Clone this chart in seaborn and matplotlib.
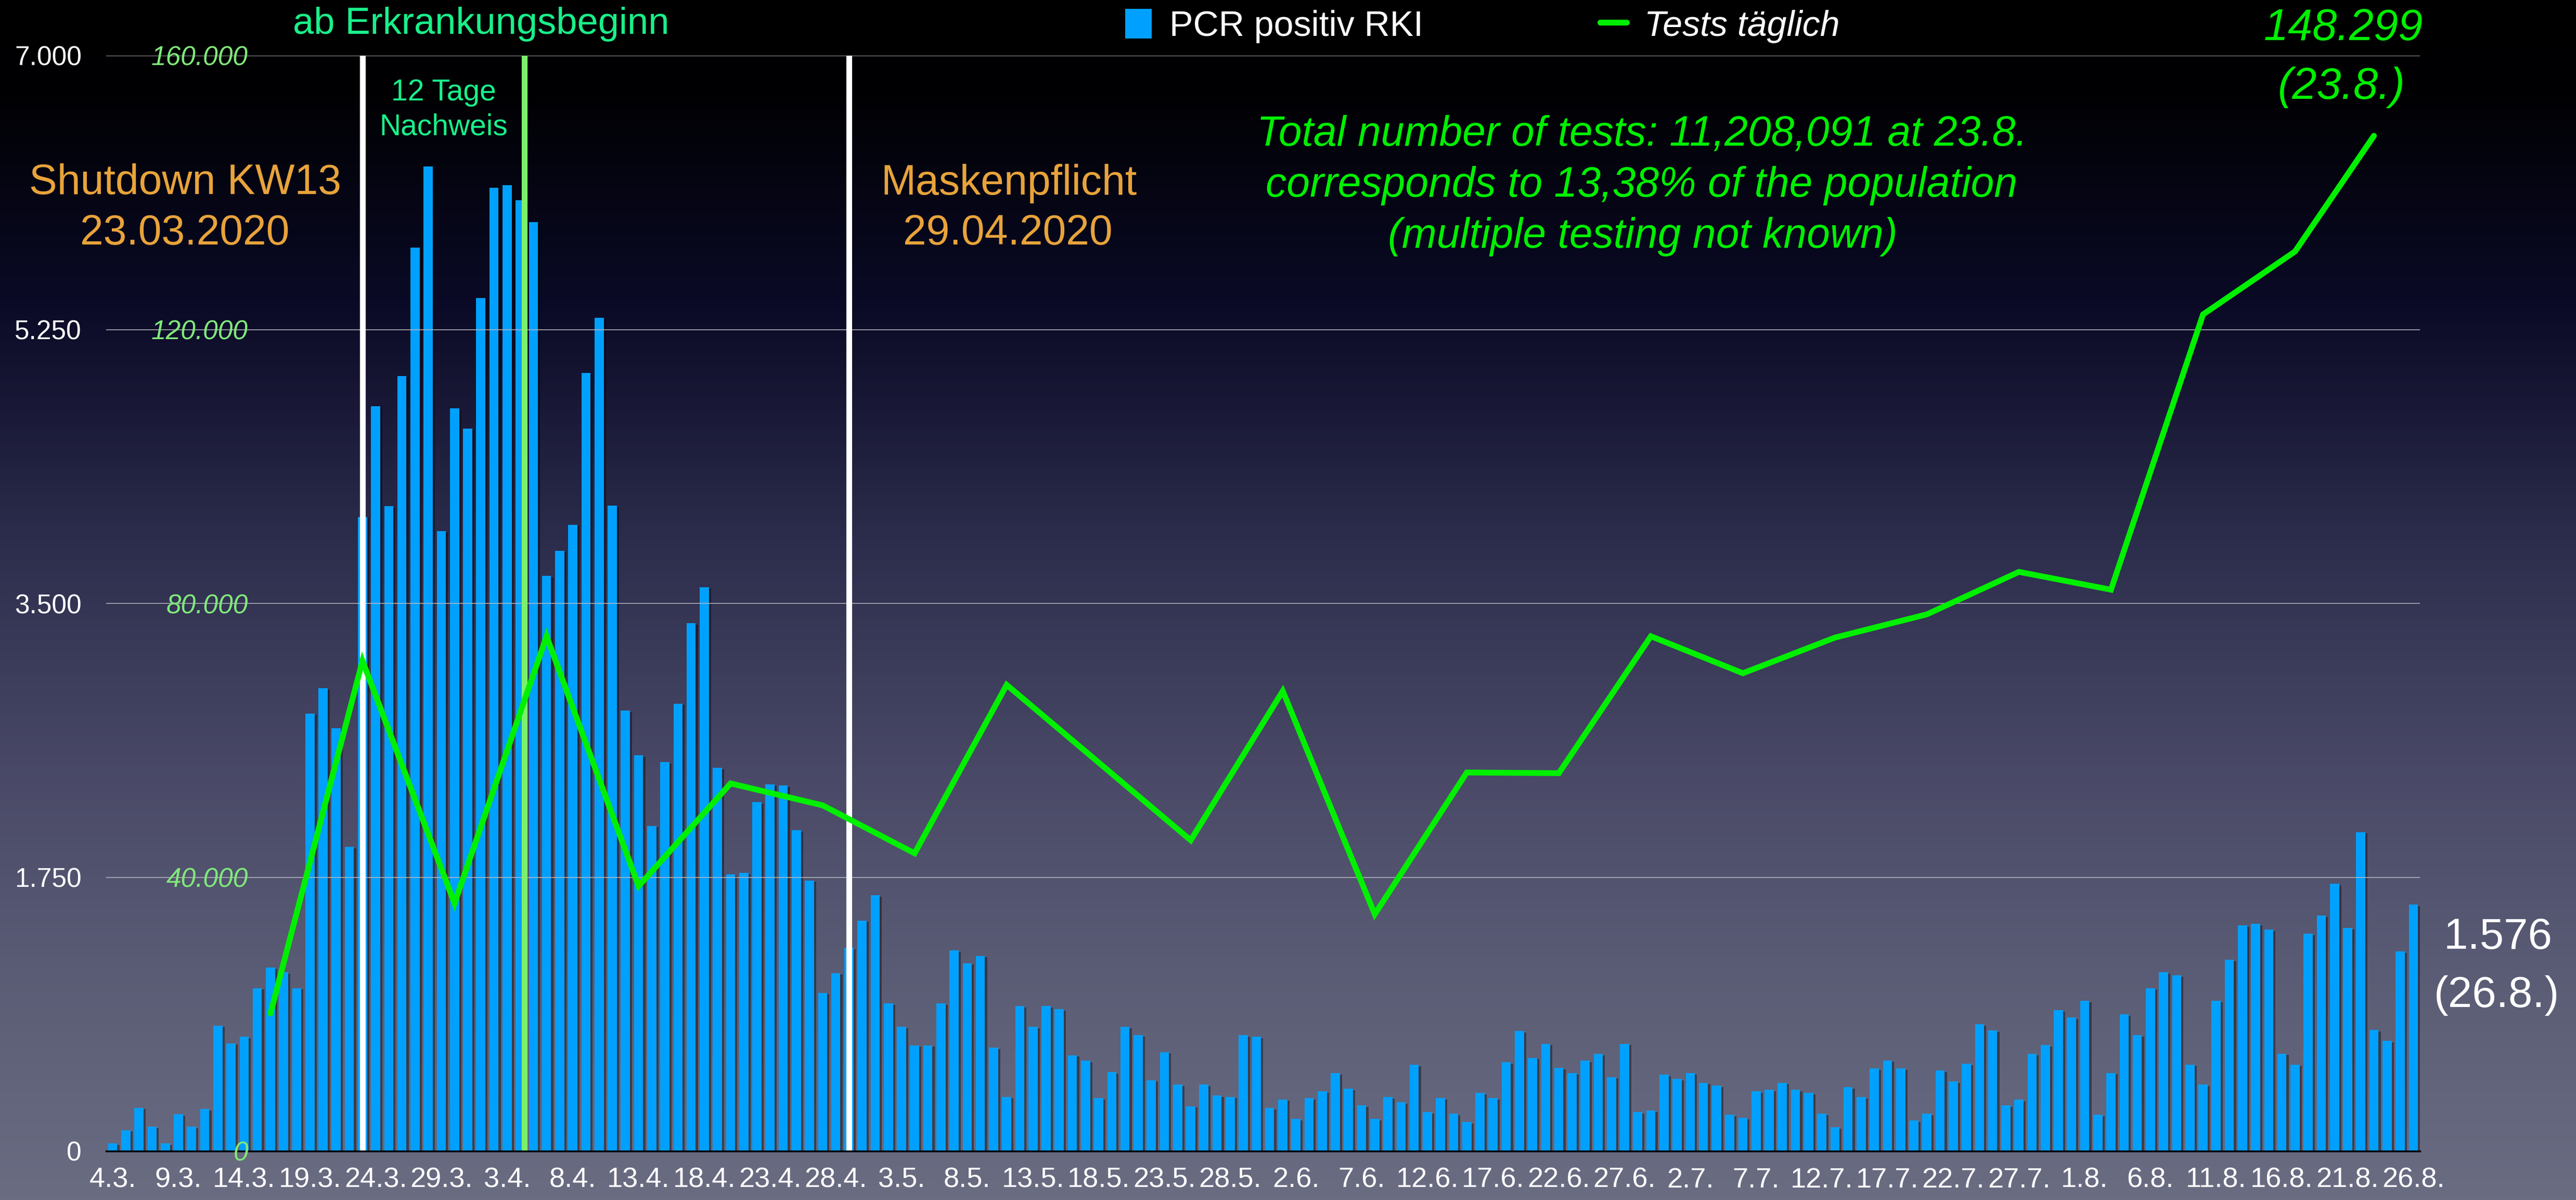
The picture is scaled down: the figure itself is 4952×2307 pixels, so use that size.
import numpy as np
import pandas as pd
import matplotlib
matplotlib.use('Agg')
import matplotlib.pyplot as plt
import matplotlib.patheffects as pe
from matplotlib.colors import LinearSegmentedColormap
from matplotlib.patches import Patch
from matplotlib.lines import Line2D
import seaborn as sns

# PCR positive per day (RKI), 4.3. - 26.8.2020
pcr_positive = [
    50, 134, 277, 155, 50, 235, 155, 269, 802, 689,
    731, 1042, 1172, 1142, 1042, 2797, 2957, 2701, 1945, 4053,
    4759, 4120, 4952, 5775, 6292, 3961, 4746, 4616, 5452, 6157,
    6174, 6077, 5935, 3675, 3835, 4003, 4973, 5326, 4124, 2814,
    2528, 2079, 2486, 2860, 3373, 3604, 2449, 1768, 1777, 2230,
    2344, 2335, 2050, 1730, 1012, 1138, 1298, 1474, 1634, 944,
    793, 676, 676, 944, 1282, 1201, 1248, 660, 347, 927,
    793, 927, 907, 613, 579, 339, 506, 793, 740, 453,
    633, 425, 287, 425, 356, 347, 740, 731, 275, 330,
    205, 339, 383, 499, 398, 292, 205, 345, 311, 552,
    249, 339, 238, 185, 372, 339, 569, 767, 596, 686,
    532, 499, 579, 622, 473, 686, 249, 258, 488, 462,
    499, 437, 419, 232, 212, 382, 392, 437, 392, 373,
    239, 152, 408, 346, 527, 580, 527, 196, 239, 516,
    445, 559, 810, 772, 292, 329, 622, 677, 900, 854,
    960, 233, 500, 874, 740, 1040, 1142, 1122, 553, 425,
    961, 1222, 1443, 1453, 1416, 623, 553, 1388, 1506, 1709,
    1426, 2039, 774, 703, 1275, 1576,
]
days = pd.date_range('2020-03-04', '2020-08-26', freq='D')
day_labels = ['{}.{}.'.format(d.day, d.month) for d in days]

# tests per day (weekly values)
test_dates = ['16.3.', '23.3.', '30.3.', '6.4.', '13.4.', '20.4.', '27.4.', '4.5.',
              '11.5.', '25.5.', '1.6.', '8.6.', '15.6.', '22.6.', '29.6.', '6.7.',
              '13.7.', '20.7.', '27.7.', '3.8.', '10.8.', '17.8.', '23.8.']
tests_daily = [20100, 71600, 36200, 75200, 38700, 53700, 50500, 43500,
               68100, 45400, 67200, 34600, 55300, 55200, 75200, 69800,
               75000, 78400, 84600, 82000, 122200, 131400, 148299]

left_ticks = [0, 1750, 3500, 5250, 7000]
left_labels = ['0', '1.750', '3.500', '5.250', '7.000']
right_ticks = [0, 40000, 80000, 120000, 160000]
right_labels = ['0', '40.000', '80.000', '120.000', '160.000']

# events (vertical markers)
shutdown_day = '23.3.'
mask_day = '29.4.'
proof_day = '4.4.'

BLUE = '#00a0ff'
GREEN = '#00f000'
ORANGE = '#e8a33a'
MINT = '#19f08a'
LGREEN = '#80e87a'

sns.set_style('white')
plt.rcParams['font.family'] = ['Liberation Sans', 'DejaVu Sans']

W, H = 4952, 2307
fig = plt.figure(figsize=(W / 100, H / 100), dpi=100)

# background gradient
bg = fig.add_axes([0, 0, 1, 1], zorder=0)
cmap = LinearSegmentedColormap.from_list('bg', [
    (0.0, '#000000'), (0.08, '#010104'), (0.25, '#0a0a26'), (0.45, '#2c2c4c'),
    (0.65, '#4a4a68'), (0.85, '#5e6078'), (1.0, '#6a6c82')])
bg.imshow(np.linspace(0, 1, 512).reshape(-1, 1), aspect='auto', cmap=cmap,
          extent=[0, 1, 0, 1], origin='upper')
bg.axis('off')


def px(x, y):
    return x / W, 1 - y / H


ax = fig.add_axes([204 / W, 1 - 2213 / H, (4652 - 204) / W, (2213 - 107) / H], zorder=1)
ax.set_facecolor('none')

df = pd.DataFrame({'day': day_labels, 'pcr': pcr_positive})
sns.barplot(data=df, x='day', y='pcr', color=BLUE, saturation=1, width=0.7,
            edgecolor='none', linewidth=0, ax=ax, zorder=3)
for p in ax.patches:
    p.set_path_effects([pe.SimplePatchShadow(offset=(3, -2), shadow_rgbFace='black', alpha=0.4),
                        pe.Normal()])

for t in left_ticks[1:]:
    ax.axhline(t, color='#b8b8c0', lw=1.1, zorder=4)

ax.axvline(day_labels.index(shutdown_day), color='white', lw=8, zorder=6)
ax.axvline(day_labels.index(mask_day), color='white', lw=8, zorder=6)
ax.axvline(day_labels.index(proof_day) + 0.3, color='#7cf06c', lw=8, zorder=6)

ax.set_xlim(-0.5, len(day_labels) - 0.5)
ax.set_ylim(0, 7000)
ax.set_xlabel('')
ax.set_ylabel('')
ax.set_xticks(range(0, len(day_labels), 5))
ax.set_xticklabels(day_labels[::5])
ax.set_yticks(left_ticks)
ax.set_yticklabels(left_labels)
ax.tick_params(axis='x', colors='white', labelsize=39, length=0, pad=22)
ax.tick_params(axis='y', colors='white', labelsize=37, length=0, pad=34)
for s in ['top', 'right', 'left']:
    ax.spines[s].set_visible(False)
ax.spines['bottom'].set_color('black')
ax.spines['bottom'].set_linewidth(2.5)
ax.spines['bottom'].set_zorder(7)
ax.grid(False)

# tests line on second scale
ax2 = ax.twinx()
test_pos = [day_labels.index(d) for d in test_dates]
sns.lineplot(x=test_pos, y=tests_daily, ax=ax2, color=GREEN, linewidth=8,
             solid_joinstyle='miter', zorder=8)
ax2.set_ylim(0, 160000)
ax2.set_xlim(-0.5, len(day_labels) - 0.5)
ax2.set_ylabel('')
ax2.yaxis.set_ticks_position('left')
ax2.set_yticks(right_ticks)
ax2.set_yticklabels(right_labels, fontstyle='italic')
ax2.tick_params(axis='y', colors=LGREEN, labelsize=37, length=0, pad=-196.5,
                labelleft=True, labelright=False)
for s in ax2.spines.values():
    s.set_visible(False)
ax2.grid(False)

# legend
leg = fig.legend(handles=[Patch(facecolor=BLUE, edgecolor='none', label='PCR positiv RKI'),
                          Line2D([0], [0], color=GREEN, lw=8, label='Tests täglich')],
                 loc='center', bbox_to_anchor=px(2850, 50), ncol=2, frameon=False,
                 fontsize=49, labelcolor='white', handlelength=0.75, handleheight=0.9,
                 handletextpad=0.5, columnspacing=5.0)
leg.get_texts()[1].set_fontstyle('italic')

# annotations
fig.text(*px(925, 47), 'ab Erkrankungsbeginn', color=MINT, fontsize=52, ha='center', va='center')
fig.text(*px(853, 178), '12 Tage', color=MINT, fontsize=41, ha='center', va='center')
fig.text(*px(853, 245), 'Nachweis', color=MINT, fontsize=41, ha='center', va='center')
fig.text(*px(356, 352), 'Shutdown KW13', color=ORANGE, fontsize=58, ha='center', va='center')
fig.text(*px(355, 449), '23.03.2020', color=ORANGE, fontsize=58, ha='center', va='center')
fig.text(*px(1939, 353), 'Maskenpflicht', color=ORANGE, fontsize=58, ha='center', va='center')
fig.text(*px(1937, 449), '29.04.2020', color=ORANGE, fontsize=58, ha='center', va='center')
fig.text(*px(3156, 259), 'Total number of tests: 11,208,091 at 23.8.', color=GREEN,
         fontsize=58, style='italic', ha='center', va='center')
fig.text(*px(3156, 357), 'corresponds to 13,38% of the population', color=GREEN,
         fontsize=58, style='italic', ha='center', va='center')
fig.text(*px(3158, 455), '(multiple testing not known)', color=GREEN,
         fontsize=58, style='italic', ha='center', va='center')
fig.text(*px(4505, 55), '148.299', color=GREEN, fontsize=61, style='italic', ha='center', va='center')
fig.text(*px(4500, 168), '(23.8.)', color=GREEN, fontsize=61, style='italic', ha='center', va='center')
fig.text(*px(4802, 1802), '1.576', color='white', fontsize=60, ha='center', va='center')
fig.text(*px(4799, 1914), '(26.8.)', color='white', fontsize=60, ha='center', va='center')

fig.savefig('out.png', dpi=100)
plt.close(fig)
